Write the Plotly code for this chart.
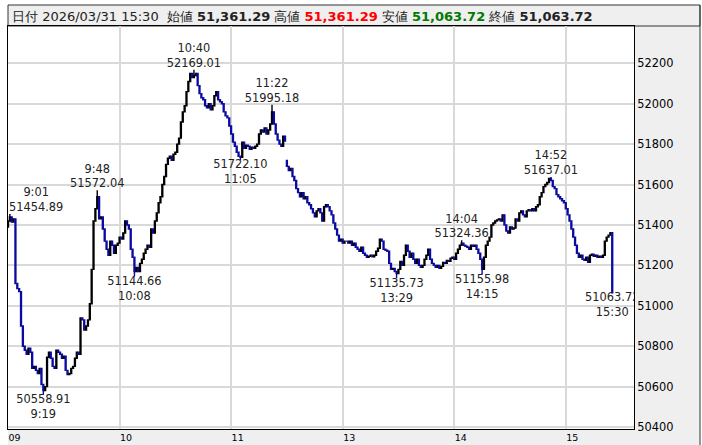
import plotly.graph_objects as go

# ---------------- data ----------------
header_date = "2026/03/31 15:30"
session_open = 51390.0
afternoon_open = 51720.0

morning_close = [
    51420, 51440, 51415, 51430, 51110, 51085, 51070, 50900, 50800, 50780,
    50760, 50790, 50770, 50690, 50700, 50680, 50665, 50690, 50610, 50580,
    50600, 50745, 50770, 50740, 50700, 50690, 50780, 50770, 50760, 50740,
    50750, 50680, 50660, 50665, 50690, 50700, 50740, 50770, 50760, 50940,
    50930, 50880, 50900, 50930, 51010, 51180, 51420, 51480, 51540, 51430,
    51440, 51380, 51320, 51280, 51250, 51320, 51300, 51260, 51300, 51310,
    51340, 51330, 51360, 51420, 51400, 51380, 51280, 51240, 51170, 51190,
    51170, 51210, 51230, 51260, 51280, 51300, 51290, 51380, 51360, 51420,
    51460, 51510, 51540, 51600, 51640, 51700, 51730, 51740, 51720, 51750,
    51760, 51800, 51830, 51910, 51960, 51990, 52060, 52110, 52150, 52130,
    52140, 52150, 52090, 52050, 52030, 52020, 51990, 51980, 52000, 51970,
    51990, 52040, 52060, 52020, 52010, 52000, 51960, 51940, 51930, 51890,
    51850, 51810, 51790, 51760, 51740, 51735, 51810, 51780, 51795, 51790,
    51775, 51785, 51780, 51790, 51800, 51850, 51870, 51860, 51880, 51850,
    51870, 51900, 51960, 51900, 51850, 51820, 51800, 51790, 51840, 51815,
]

afternoon_close = [
    51690, 51670, 51680, 51640, 51620, 51580, 51560, 51540, 51560, 51530,
    51540, 51510, 51500, 51480, 51460, 51440, 51470, 51480, 51460, 51420,
    51490, 51500, 51490, 51470, 51450, 51410, 51380, 51350, 51320, 51330,
    51310, 51320, 51320, 51310, 51320, 51300, 51310, 51290, 51280, 51270,
    51290, 51260, 51250, 51240, 51245, 51250, 51242, 51250, 51270, 51285,
    51330, 51320, 51280, 51275, 51270, 51210, 51180, 51185, 51170, 51160,
    51180, 51220, 51200, 51250, 51300, 51270, 51240, 51260, 51230, 51210,
    51230, 51200, 51190, 51200, 51230, 51250, 51280, 51230, 51210, 51200,
    51190, 51200, 51185, 51195, 51215, 51210, 51225, 51220, 51235, 51240,
    51230, 51260, 51280, 51300, 51310, 51300, 51295, 51290, 51280, 51300,
    51295, 51300, 51280, 51260, 51230, 51180, 51240, 51300, 51320, 51340,
    51400, 51410, 51420, 51425, 51430, 51420, 51450, 51400, 51370, 51360,
    51390, 51380, 51385, 51430, 51420, 51460, 51470, 51450, 51440, 51470,
    51475, 51470, 51480, 51470, 51490, 51500, 51540, 51560, 51590, 51600,
    51610, 51630, 51620, 51590, 51580, 51550, 51540, 51530, 51520, 51510,
    51480, 51450, 51420, 51380, 51340, 51300, 51260, 51240, 51250, 51230,
    51225, 51240, 51215, 51250, 51255, 51245, 51250, 51240, 51245, 51240,
    51250, 51320, 51340, 51350, 51361.29, 51063.72,
]

high_marks = [("9:01", 51454.89), ("9:48", 51572.04), ("10:40", 52169.01),
              ("11:22", 51995.18), ("14:04", 51324.36), ("14:52", 51637.01)]
low_marks = [("9:19", 50558.91), ("10:08", 51144.66), ("11:05", 51722.10),
             ("13:29", 51135.73), ("14:15", 51155.98), ("15:30", 51063.72)]

y_ticks = [50400, 50600, 50800, 51000, 51200, 51400, 51600, 51800, 52000, 52200]
x_tick_times = ["9:00", "10:00", "11:00", "13:00", "14:00", "15:00"]
x_tick_labels = ["09", "10", "11", "13", "14", "15"]

# ---------------- build bars ----------------
times = ([f"{9 + m // 60}:{m % 60:02d}" for m in range(150)]
         + [f"{12 + (30 + m) // 60}:{(30 + m) % 60:02d}" for m in range(175)]
         + ["15:30"])
closes = morning_close + afternoon_close
opens = [session_open] + closes[:-1]
opens[len(morning_close)] = afternoon_open
highs = [max(o, c) for o, c in zip(opens, closes)]
lows = [min(o, c) for o, c in zip(opens, closes)]
for t, v in high_marks:
    highs[times.index(t)] = v
for t, v in low_marks:
    lows[times.index(t)] = v
xs = list(range(len(closes)))

FONT = "DejaVu Sans"
BLUE = "#0a0aa0"
fig = go.Figure()
fig.add_trace(go.Candlestick(
    x=xs, open=opens, high=highs, low=lows, close=closes,
    text=times, hoverinfo="text",
    increasing=dict(line=dict(color="black", width=1.4), fillcolor="black"),
    decreasing=dict(line=dict(color=BLUE, width=1.4), fillcolor=BLUE),
    showlegend=False,
))

lab_x, lab_y, lab_t, lab_p = [], [], [], []
for t, v in high_marks[1:]:
    lab_x.append(times.index(t)); lab_y.append(v)
    lab_t.append(f"{t}<br>{v:.2f}")
    lab_p.append("top center")
for t, v in low_marks:
    lab_x.append(times.index(t)); lab_y.append(v)
    lab_t.append(f"{v:.2f}<br>{t}")
    lab_p.append("bottom center")
fig.add_trace(go.Scatter(
    x=lab_x, y=lab_y, text=lab_t, mode="text", textposition=lab_p,
    textfont=dict(family=FONT, size=11.4, color="#222"),
    cliponaxis=True, hoverinfo="skip", showlegend=False,
))

# ---------------- layout ----------------
W, H = 702, 445
L, R, T, B = 8, 68, 26, 16
pw, ph = W - L - R, H - T - B
def px(x):
    return (x - L) / pw
def py(y):
    return (H - B - y) / ph

last_o, last_h, last_l, last_c = opens[-1], highs[-1], lows[-1], closes[-1]
header = (f"日付 {header_date}  始値 <b>{last_o:,.2f}</b> 高値 "
          f"<span style='color:#ff0000'><b>{last_h:,.2f}</b></span> 安値 "
          f"<span style='color:#007a00'><b>{last_l:,.2f}</b></span> 終値 "
          f"<b>{last_c:,.2f}</b>")

first_t, first_v = high_marks[0]
annotations = [
    dict(xref="paper", yref="paper", x=px(10), y=py(17), xanchor="left", yanchor="middle",
         text=header, showarrow=False,
         font=dict(family=FONT, size=13, color="#222")),
    dict(x=times.index(first_t), y=first_v, xref="x", yref="y",
         text=f"{first_t}<br>{first_v:.2f}", showarrow=False,
         xanchor="left", yanchor="bottom", align="center", xshift=-3, yshift=-2,
         font=dict(family=FONT, size=11.4, color="#222")),
]

GRAY = "#efefef"
shapes = [
    dict(type="rect", xref="paper", yref="paper", x0=1, x1=px(700), y0=py(445), y1=1,
         fillcolor=GRAY, line=dict(width=0), layer="below"),
    dict(type="rect", xref="paper", yref="paper", x0=0, x1=px(700), y0=py(445), y1=0,
         fillcolor=GRAY, line=dict(width=0), layer="below"),
    dict(type="rect", xref="paper", yref="paper", x0=0, x1=px(700), y0=1, y1=py(5),
         fillcolor=GRAY, line=dict(color="#333", width=1), layer="below"),
    dict(type="line", xref="paper", yref="paper", x0=px(700), x1=px(700), y0=py(445), y1=py(5),
         line=dict(color="#333", width=1)),
]

fig.update_layout(
    width=W, height=H,
    margin=dict(l=L, r=R, t=T, b=B, pad=0),
    paper_bgcolor="white", plot_bgcolor="white",
    font=dict(family=FONT, size=11.4, color="black"),
    shapes=shapes,
    annotations=annotations,
    xaxis=dict(
        range=[0, 336.7], rangeslider=dict(visible=False), automargin=False,
        tickvals=[times.index(t) for t in x_tick_times], ticktext=x_tick_labels,
        ticklabelposition="outside right",
        tickfont=dict(family=FONT, size=9.5, color="black"),
        showgrid=True, gridcolor="#d9d9d9", gridwidth=2, zeroline=False,
        showline=True, linecolor="black", linewidth=1, mirror=True, ticks="", ticklen=0,
        fixedrange=True,
    ),
    yaxis=dict(
        range=[50390, 52385], side="right", automargin=False,
        tickvals=y_ticks, ticktext=[str(v) for v in y_ticks],
        tickfont=dict(family=FONT, size=11.4, color="black"),
        showgrid=True, gridcolor="#d9d9d9", gridwidth=2, zeroline=False,
        showline=True, linecolor="black", linewidth=1, mirror=True, ticks="", ticklen=0,
        fixedrange=True,
    ),
)

fig.write_html("out.html", config={"displayModeBar": False},
               post_script="document.body.style.margin='0';document.body.style.overflow='hidden';")
